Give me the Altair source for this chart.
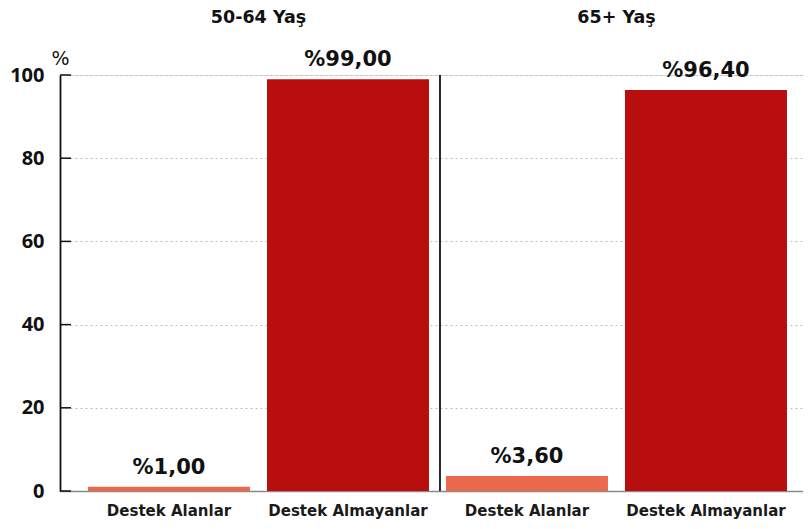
import altair as alt
import pandas as pd

groups = ["50-64 Yaş", "50-64 Yaş", "65+ Yaş", "65+ Yaş"]
categories = ["Destek Alanlar", "Destek Almayanlar", "Destek Alanlar", "Destek Almayanlar"]
values = [1.00, 99.00, 3.60, 96.40]
y_ticks = [0, 20, 40, 60, 80, 100]
group_titles = ["50-64 Yaş", "65+ Yaş"]

keys = [f"{g}|{c}" for g, c in zip(groups, categories)]
df = pd.DataFrame({"key": keys, "group": groups, "cat": categories, "value": values})
titles_df = pd.DataFrame({"title": group_titles,
                          "key": [keys[0], keys[2]]})
ticks_df = pd.DataFrame({"t": y_ticks})
sep_df = pd.DataFrame({"key": [keys[2]]})

FONT = "DejaVu Sans"
W, H = 743, 416

xscale = alt.Scale(domain=keys, paddingInner=0.095, paddingOuter=0.123, align=0.636)
yscale = alt.Scale(domain=[0, 100])

x_enc = alt.X("key:N", scale=xscale, sort=keys,
              axis=alt.Axis(title=None, labelAngle=0, ticks=False,
                            labelExpr="split(datum.label, '|')[1]",
                            labelFont=FONT, labelFontSize=15, labelFontWeight=700,
                            labelColor="#1a1a1a", labelPadding=12,
                            domainColor="#8a8a8a", domainWidth=1.5))
y_enc = alt.Y("value:Q", scale=yscale,
              axis=alt.Axis(values=y_ticks, title="%", titleAngle=0, titleX=0, titleY=-17,
                            titleAlign="center", titleBaseline="middle",
                            titleFont=FONT, titleFontSize=19, titleFontWeight=400, titleColor="#111",
                            labelFont="Open Sans", labelFontSize=20, labelFontWeight=700,
                            labelColor="#111", labelPadding=16, ticks=False,
                            domainColor="#111", domainWidth=1.8,
                            grid=True, gridColor="#bdbdbd", gridDash=[2, 3], gridWidth=1))

bars = alt.Chart(df).mark_bar().encode(
    x=x_enc,
    y=y_enc,
    color=alt.Color("cat:N", scale=alt.Scale(domain=["Destek Alanlar", "Destek Almayanlar"],
                                              range=["#EC6A4B", "#B80E0E"]), legend=None),
)

labels = alt.Chart(df).transform_calculate(
    txt="'%' + replace(format(datum.value, '.2f'), '.', ',')"
).mark_text(font=FONT, fontSize=21, fontWeight=700, color="#111", baseline="alphabetic", dy=-13).encode(
    x=alt.X("key:N", scale=xscale, sort=keys),
    y=alt.Y("value:Q", scale=yscale),
    text="txt:N",
)

titles = alt.Chart(titles_df).mark_text(font=FONT, fontSize=17.5, fontWeight=700, color="#111",
                                        baseline="middle", dx=8.5).encode(
    x=alt.X("key:N", scale=xscale, sort=keys, bandPosition=1),
    y=alt.value(-57),
    text="title:N",
)

sep = alt.Chart(sep_df).mark_rule(color="#111", strokeWidth=1.8, xOffset=-6).encode(
    x=alt.X("key:N", scale=xscale, sort=keys, bandPosition=0),
    y=alt.value(0),
    y2=alt.value(H),
)

ticks = alt.Chart(ticks_df).mark_rule(color="#111", strokeWidth=1.5).encode(
    y=alt.Y("t:Q", scale=yscale),
    x=alt.value(0),
    x2=alt.value(11),
)

chart = alt.layer(bars, labels, titles, sep, ticks).properties(
    width=W, height=H,
    autosize=alt.AutoSizeParams(type="none"),
    padding={"left": 52, "top": 67, "right": 0, "bottom": 30},
).configure_view(stroke=None).configure(background="white")

chart.save("out.html", embed_options={"renderer": "svg", "actions": False})
